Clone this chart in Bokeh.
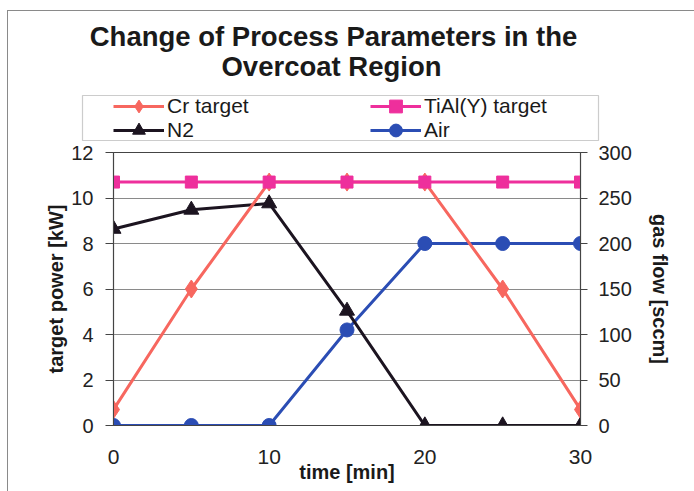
from bokeh.plotting import figure
from bokeh.layouts import column
from bokeh.models import (Range1d, LinearAxis, FixedTicker, Legend, LegendItem,
                          Label, BoxAnnotation)
from bokeh.embed import file_html
from bokeh.resources import INLINE

# ---- data ----
time_min = [0, 5, 10, 15, 20, 25, 30]
cr_target_kw = [0.7, 6.0, 10.7, 10.7, 10.7, 6.0, 0.7]
tial_target_kw = [10.7, 10.7, 10.7, 10.7, 10.7, 10.7, 10.7]
n2_sccm = [216, 237, 244, 126, 0, 0, 0]
air_sccm = [0, 0, 0, 105, 200, 200, 200]

x_ticks = [0, 10, 20, 30]
left_ticks = [0, 2, 4, 6, 8, 10, 12]
right_ticks = [0, 50, 100, 150, 200, 250, 300]

title_lines = ["Change of Process Parameters in the", "Overcoat Region"]
series_names = ["Cr target", "N2", "TiAl(Y) target", "Air"]

C_CR = "#F7675F"
C_TIAL = "#EE2F9C"
C_N2 = "#1C1420"
C_AIR = "#2B4DB4"
FONT = "Liberation Sans"
LW = 3

W, H = 694, 491
T = 141  # height of the header (title + legend) figure

FRAME_LINE = "linear-gradient(#8a8a8a,#8a8a8a)"

# ---------------- header figure: title and legend ----------------
top = figure(width=W, height=T, output_backend="svg", toolbar_location=None,
             x_range=Range1d(0, W), y_range=Range1d(T, 0),
             x_axis_type=None, y_axis_type=None, min_border=0)
top.frame_align = False
top.outline_line_color = None
top.grid.grid_line_color = None
top.background_fill_alpha = 0
top.border_fill_alpha = 0
top.styles = {"background": FRAME_LINE + " 7px 10px / 1px 100% no-repeat, "
                            + FRAME_LINE + " 7px 10px / 100% 1px no-repeat, white"}

for txt, cx, cy in [(title_lines[0], 333, 36), (title_lines[1], 331, 66)]:
    top.add_layout(Label(x=cx, y=cy, text=txt, text_font=FONT, text_font_style="bold",
                         text_font_size="27.5px", text_color="#1a1a1a",
                         text_align="center", text_baseline="middle"))


# legend proxies (hidden renderers that only lend their style to the legend)
def proxy(xs, ys, color, marker, size):
    l = top.line(xs, ys, line_color=color, line_width=LW, visible=False)
    m = top.scatter(xs, ys, marker=marker, size=size, fill_color=color,
                    line_color=color, visible=False)
    return [l, m]


px_cr = proxy(time_min, cr_target_kw, C_CR, "diamond", 16)
px_n2 = proxy(time_min, n2_sccm, C_N2, "triangle", 13)
px_ti = proxy(time_min, tial_target_kw, C_TIAL, "square", 11)
px_air = proxy(time_min, air_sccm, C_AIR, "circle", 13)

top.add_layout(BoxAnnotation(left=82, right=598, top=95, bottom=140,
                             fill_color="white", fill_alpha=1,
                             line_color="#555555", line_width=1.2))


def add_legend(label, rends, x, y):
    top.add_layout(Legend(items=[LegendItem(label=label, renderers=rends)],
                          location=(x, y), orientation="vertical",
                          label_text_font=FONT, label_text_font_size="21px",
                          label_text_color="#1a1a1a", glyph_width=51, glyph_height=32,
                          label_standoff=3, label_height=18, spacing=0, padding=0,
                          margin=0, border_line_alpha=0, background_fill_alpha=0,
                          inactive_fill_alpha=0), "center")


add_legend(series_names[0], px_cr, 113, 19)
add_legend(series_names[1], px_n2, 113, -5)
add_legend(series_names[2], px_ti, 370, 19)
add_legend(series_names[3], px_air, 370, -5)

# ---------------- main chart ----------------
p = figure(width=W, height=H - T, output_backend="svg", toolbar_location=None,
           x_range=Range1d(0, 30), y_range=Range1d(0, 12),
           min_border_left=113, min_border_right=114,
           min_border_top=152 - T, min_border_bottom=66)
p.frame_align = False
p.extra_y_ranges = {"gas": Range1d(0, 300)}

p.background_fill_color = "white"
p.border_fill_alpha = 0
p.styles = {"background": FRAME_LINE + " 7px 0px / 1px 100% no-repeat, white"}
p.outline_line_color = "#444444"
p.outline_line_width = 1.2

p.xgrid.grid_line_color = None
p.ygrid.ticker = FixedTicker(ticks=left_ticks)
p.ygrid.grid_line_color = "#8a8a8a"
p.ygrid.grid_line_width = 1

# x axis
xa = p.xaxis[0]
xa.ticker = FixedTicker(ticks=x_ticks)
xa.axis_label = "time [min]"
xa.axis_label_text_font = FONT
xa.axis_label_text_font_style = "bold"
xa.axis_label_text_font_size = "20px"
xa.axis_label_text_color = "#1a1a1a"
xa.axis_label_standoff = -6
xa.major_tick_out = 0
xa.major_tick_in = 0
xa.minor_tick_out = 0
xa.minor_tick_in = 0
xa.major_label_standoff = 24
xa.major_label_text_font = FONT
xa.major_label_text_font_size = "21px"
xa.major_label_text_color = "#222222"
xa.axis_line_color = "#444444"

# left axis
ya = p.yaxis[0]
ya.ticker = FixedTicker(ticks=left_ticks)
ya.axis_label = "target power [kW]"
ya.axis_label_text_font = FONT
ya.axis_label_text_font_style = "bold"
ya.axis_label_text_font_size = "20px"
ya.axis_label_text_color = "#1a1a1a"
ya.axis_label_standoff = 1
ya.major_tick_out = 8
ya.major_tick_in = 0
ya.minor_tick_out = 0
ya.minor_tick_in = 0
ya.major_tick_line_color = "#444444"
ya.major_label_standoff = 12
ya.major_label_text_font = FONT
ya.major_label_text_font_size = "20px"
ya.major_label_text_color = "#222222"
ya.axis_line_color = "#444444"

# right axis
ra = LinearAxis(y_range_name="gas", ticker=FixedTicker(ticks=right_ticks))
ra.axis_label = "gas flow [sccm]"
ra.axis_label_text_font = FONT
ra.axis_label_text_font_style = "bold"
ra.axis_label_text_font_size = "20px"
ra.axis_label_text_color = "#1a1a1a"
ra.axis_label_standoff = 14
ra.major_tick_out = 7
ra.major_tick_in = 0
ra.minor_tick_out = 0
ra.minor_tick_in = 0
ra.major_tick_line_color = "#444444"
ra.major_label_standoff = 11
ra.major_label_text_font = FONT
ra.major_label_text_font_size = "20px"
ra.major_label_text_color = "#222222"
ra.axis_line_color = "#444444"
p.add_layout(ra, "right")

# Air (right axis)
p.line(time_min, air_sccm, y_range_name="gas", line_color=C_AIR, line_width=LW)
p.scatter(time_min, air_sccm, y_range_name="gas", marker="circle", size=14,
          fill_color=C_AIR, line_color=C_AIR)
# N2 (right axis)
p.line(time_min, n2_sccm, y_range_name="gas", line_color=C_N2, line_width=LW)
p.scatter(time_min, n2_sccm, y_range_name="gas", marker="triangle", size=15,
          fill_color=C_N2, line_color=C_N2)
# Cr target
p.line(time_min, cr_target_kw, line_color=C_CR, line_width=LW)
p.scatter(time_min, cr_target_kw, marker="diamond", size=18,
          fill_color=C_CR, line_color=C_CR)
# TiAl(Y) target
p.line(time_min, tial_target_kw, line_color=C_TIAL, line_width=LW)
p.scatter(time_min, tial_target_kw, marker="square", size=12,
          fill_color=C_TIAL, line_color=C_TIAL)

layout = column(top, p, spacing=0)
open("out.html", "w").write(file_html(layout, INLINE))
